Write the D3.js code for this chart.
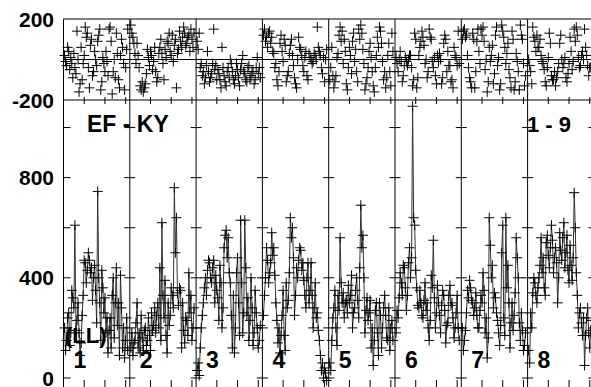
<!DOCTYPE html>
<html>
<head>
<meta charset="utf-8">
<script src="https://cdn.jsdelivr.net/npm/d3@7"></script>
<style>
    body { margin: 0; background: #fff; }
    svg { display: block; }
    text { font-family: "Liberation Sans", Arial, sans-serif; font-weight: bold; fill: #000; }
</style>
</head>
<body>
<svg id="chart" width="591" height="387"></svg>
<script>
// segment names shown at the foot of the lower panel
const segmentLabels = ["1", "2", "3", "4", "5", "6", "7", "8"];
const daysPerSegment = 32;
const segmentCount = 9;
const stepsPerDay = 2;

// lower panel: half-daily level, one array per segment
const level1 = [200, 110, 150, 240, 260, 130, 180, 350, 320, 280, 610, 190, 230, 300, 180, 90, 140, 250, 330, 470, 460, 380, 430, 500, 470, 420, 440, 310, 400, 450, 350, 220, 745, 400, 300, 150, 430, 360, 260, 320, 180, 240, 100, 190, 240, 120, 330, 400, 160, 300, 440, 210, 300, 90, 410, 280, 120, 200, 80, 150, 240, 110];
const level2 = [120, 180, 90, 140, 150, 220, 300, 120, 180, 100, 250, 160, 110, 190, 200, 130, 150, 240, 170, 110, 260, 190, 210, 280, 180, 250, 300, 200, 440, 150, 620, 330, 240, 390, 170, 100, 300, 210, 250, 360, 330, 280, 760, 500, 640, 340, 290, 360, 350, 120, 300, 190, 140, 240, 230, 170, 420, 260, 330, 150, 200, 280];
const level3 = [30, 60, 10, 120, 200, 250, 300, 360, 400, 330, 430, 470, 460, 400, 380, 440, 470, 300, 410, 350, 320, 230, 450, 380, 200, 280, 520, 570, 590, 480, 560, 420, 380, 250, 120, 330, 100, 200, 420, 480, 300, 170, 630, 380, 180, 260, 630, 440, 250, 320, 150, 230, 400, 280, 130, 180, 350, 260, 200, 120, 150, 210];
const level4 = [250, 330, 400, 520, 470, 380, 420, 460, 580, 490, 520, 410, 300, 230, 140, 200, 100, 170, 250, 350, 170, 110, 380, 280, 310, 420, 640, 560, 600, 480, 250, 330, 440, 400, 470, 520, 510, 430, 460, 390, 330, 280, 400, 460, 300, 350, 460, 330, 200, 280, 380, 240, 260, 190, 150, 90, 30, 60, 0, 40, 20, -10];
const level5 = [60, 30, 150, 240, 280, 350, 200, 130, 330, 270, 560, 380, 300, 340, 240, 300, 310, 260, 370, 300, 330, 410, 200, 260, 280, 350, 400, 310, 240, 440, 690, 520, 570, 400, 180, 270, 320, 230, 260, 310, 120, 200, 50, 150, 270, 300, 180, 90, 300, 250, 120, 200, 280, 330, 250, 160, 150, 280, 110, 200, 230, 150];
const level6 = [180, 270, 240, 320, 420, 380, 330, 450, 440, 360, 270, 330, 460, 520, 400, 480, 1085, 640, 610, 430, 360, 290, 280, 350, 300, 250, 240, 310, 380, 270, 300, 200, 150, 230, 410, 360, 550, 320, 200, 260, 370, 300, 250, 180, 290, 350, 330, 270, 140, 210, 220, 330, 370, 290, 300, 240, 160, 200, 260, 330, 200, 150];
const level7 = [200, 110, 150, 190, 260, 350, 320, 390, 360, 310, 300, 250, 280, 340, 250, 200, 200, 270, 330, 300, 420, 350, 180, 240, 80, 160, 640, 530, 400, 450, 280, 340, 320, 260, 230, 180, 130, 210, 500, 610, 240, 170, 640, 360, 450, 300, 120, 220, 300, 190, 250, 340, 560, 480, 400, 220, 150, 260, 190, 110, 130, 180];
const level8 = [110, 60, 260, 200, 340, 400, 380, 330, 300, 360, 400, 450, 560, 420, 480, 360, 330, 540, 570, 490, 440, 520, 610, 550, 420, 480, 520, 460, 300, 400, 580, 510, 470, 560, 620, 440, 500, 570, 430, 380, 530, 450, 390, 480, 740, 600, 420, 330, 200, 260, 280, 220, 170, 240, 50, 170, 240, 280, 180, 120, 190, 230];

// upper panel: residuals, one array per segment
const resid1 = [20, -10, -30, 60, 40, -50, 10, -20, -90, 30, -40, -70, 140, 0, -160, -120, 60, -100, -20, 20, 160, 110, 130, -40, -140, 70, 100, -80, -60, 40, 0, -30, 90, 120, 150, -150, -110, 10, -20, -60, 40, -10, -80, 150, 160, 90, -170, -60, 0, -90, 130, 30, -100, -140, 20, 100, 60, -20, -150, -40, 50, 150];
const resid2 = [170, 130, 110, 80, 30, -20, 80, 20, -40, -130, -150, -110, -160, -140, -120, -70, 50, 10, -30, 40, 20, -50, -10, 60, -60, -110, -90, 30, 60, 100, 30, -20, -100, 50, 10, 90, 80, 130, 40, 20, 120, -10, 70, 100, -140, 30, 50, 140, 90, 60, 110, 160, 130, 70, 80, 110, 120, 40, 150, 100, 60, 130];
const resid3 = [90, 50, 130, -40, -20, -80, -60, -120, -90, -30, 40, -60, -110, -90, -70, -20, 150, -50, -30, -100, -50, -70, -100, -140, 60, -40, -80, -110, -130, -60, -40, -90, 0, -20, -60, -100, -120, -80, -20, -50, -90, -130, -50, -20, 20, -60, -70, -100, -110, -40, -30, -90, -80, -60, -60, -120, -100, -40, 10, -70, -40, -90];
const resid4 = [120, 150, 90, 110, 60, 130, 140, 80, 110, 40, 30, -40, -20, -100, -130, -60, 80, 120, 40, -10, 100, 70, -110, -80, -60, 30, 70, 100, 20, -30, -90, -120, -140, 0, 110, 60, 50, 20, -30, -60, 10, 40, -80, -100, 30, 10, 0, -20, -10, 30, 20, 0, 160, 60, 40, 20, -40, -70, 10, -110, 0, 50];
const resid5 = [-100, -40, 60, -80, -140, -110, -80, 10, 30, 120, 160, 90, 140, -20, 100, 40, -120, -150, -40, 60, 20, -70, 90, 130, -10, 50, -60, -110, 150, 100, 170, 130, 50, -20, -150, -120, -90, -40, 40, 80, 10, -60, -130, -160, -40, 20, 110, 60, 160, 140, 80, -10, -100, -60, -140, -90, 20, 80, -60, -130, 130, 40];
const resid6 = [10, -20, -60, 0, 40, -10, -110, -80, -30, 10, -10, -30, 0, 20, 20, -40, -130, -100, 130, 100, -140, -90, 20, 60, 90, 140, 110, 70, -20, 0, -90, -60, 150, 110, 100, -10, -40, 10, -80, -120, 20, -10, 30, 0, -120, -90, 80, 120, 100, -60, 40, -30, -30, -110, -100, -140, 60, 20, 10, -30, 140, -20];
const resid7 = [100, 140, 150, 110, 120, 20, -40, -90, -110, -140, 130, 100, -140, -60, 90, 150, 40, -20, 150, 120, 160, 90, -50, 0, -160, -110, 60, -10, 20, 70, -120, -70, 120, 160, -30, 10, -150, -120, 170, 140, 110, 60, -20, 30, 80, -50, -90, -140, 140, 100, -150, -110, 30, -10, -60, -150, 170, 120, 100, -20, -130, -80];
const resid8 = [0, -30, -60, -120, 160, 110, 90, 40, 120, 60, 60, 100, 20, -10, -20, -50, -110, -130, -40, 10, 130, 80, -80, -100, -100, -60, -130, -90, -60, -20, 80, 120, 0, -40, -20, 10, -90, -110, -70, -20, 110, 40, -50, -10, 150, 90, 160, 120, 10, -40, -30, 20, 40, 0, 150, 60, 20, -30, -80, -40, -40, 0];

const levels = [level1, level2, level3, level4, level5, level6, level7, level8];
const resids = [resid1, resid2, resid3, resid4, resid5, resid6, resid7, resid8];

const topTickValues = [200, -200];
const bottomTickLabels = [0, 400, 800];
const bottomTickMarks = [0, 200, 400, 600, 800, 1000];
const dayTicks = [10, 20, 30];

const svg = d3.select("#chart");

const x = d3.scaleLinear()
    .domain([0, segmentCount * daysPerSegment])
    .range([63.5, 63.5 + segmentCount * 66.3]);
const yTop = d3.scaleLinear().domain([-200, 200]).range([100, 19]);
const yBot = d3.scaleLinear().domain([-40, 1110]).range([388, 100]);

const left = x(0), right = 600;

function hline(y, x1, x2) {
    svg.append("line").attr("x1", x1).attr("x2", x2).attr("y1", y).attr("y2", y)
        .attr("stroke", "#000").attr("stroke-width", 1);
}
function vline(xp, y1, y2) {
    svg.append("line").attr("x1", xp).attr("x2", xp).attr("y1", y1).attr("y2", y2)
        .attr("stroke", "#000").attr("stroke-width", 1);
}

// frame
hline(yTop(200), left, right);
hline(yTop(0), left, right);
hline(yTop(-200), left, right);
vline(left, yTop(200), 388);

// segment separators with value ticks
for (let k = 1; k < segmentCount; k++) {
    const xp = x(k * daysPerSegment);
    vline(xp, yTop(200), 388);
    bottomTickMarks.forEach(function (v) {
        svg.append("line").attr("x1", xp - 5.5).attr("x2", xp + 5.5)
            .attr("y1", yBot(v)).attr("y2", yBot(v)).attr("stroke", "#000");
    });
}

// left axis ticks (inward)
bottomTickMarks.forEach(function (v) {
    svg.append("line").attr("x1", left).attr("x2", left + 7)
        .attr("y1", yBot(v)).attr("y2", yBot(v)).attr("stroke", "#000");
});

// day ticks along the panel boundary and the bottom
for (let k = 0; k < segmentCount; k++) {
    dayTicks.forEach(function (d) {
        const xp = x(k * daysPerSegment + d);
        svg.append("line").attr("x1", xp).attr("x2", xp)
            .attr("y1", yTop(-200) - 3).attr("y2", yTop(-200) + 4).attr("stroke", "#000");
        svg.append("line").attr("x1", xp).attr("x2", xp)
            .attr("y1", 380).attr("y2", 388).attr("stroke", "#000");
    });
}

// axis labels
topTickValues.forEach(function (v) {
    svg.append("text").attr("x", 54).attr("y", yTop(v)).attr("dy", "0.36em")
        .attr("text-anchor", "end").attr("font-size", 21).text(v);
});
bottomTickLabels.forEach(function (v) {
    svg.append("text").attr("x", 54).attr("y", yBot(v)).attr("dy", "0.36em")
        .attr("text-anchor", "end").attr("font-size", 21).text(v);
});

const plusPath = "M-5,0H5M0,-5V5";

function toPoints(vals, k) {
    return vals.map(function (v, i) {
        return { t: k * daysPerSegment + (i + 1) / stepsPerDay, v: v };
    });
}

// lower panel series
const lineGen = d3.line()
    .x(function (d) { return x(d.t); })
    .y(function (d) { return yBot(d.v); });

levels.forEach(function (vals, k) {
    const pts = toPoints(vals, k);
    svg.append("path").datum(pts).attr("d", lineGen)
        .attr("fill", "none").attr("stroke", "#333").attr("stroke-width", 1);
    svg.append("g").selectAll("path").data(pts).enter().append("path")
        .attr("d", plusPath)
        .attr("transform", function (d) { return "translate(" + x(d.t) + "," + yBot(d.v) + ")"; })
        .attr("stroke", "#000").attr("stroke-width", 1).attr("fill", "none");
});

// upper panel residuals
resids.forEach(function (vals, k) {
    const pts = toPoints(vals, k);
    svg.append("g").selectAll("path").data(pts).enter().append("path")
        .attr("d", plusPath)
        .attr("transform", function (d) { return "translate(" + x(d.t) + "," + yTop(d.v) + ")"; })
        .attr("stroke", "#000").attr("stroke-width", 1).attr("fill", "none");
});

// labels
svg.append("text").attr("x", 87).attr("y", 132).attr("font-size", 23).text("EF - KY");
svg.append("text").attr("x", 527).attr("y", 132).attr("font-size", 22).text("1 - 9");
svg.append("text").attr("x", 65).attr("y", 343).attr("font-size", 22).text("(LL)");
segmentLabels.forEach(function (s, k) {
    svg.append("text").attr("x", x(k * daysPerSegment) + 10).attr("y", 368)
        .attr("font-size", 23).text(s);
});
</script>
</body>
</html>
